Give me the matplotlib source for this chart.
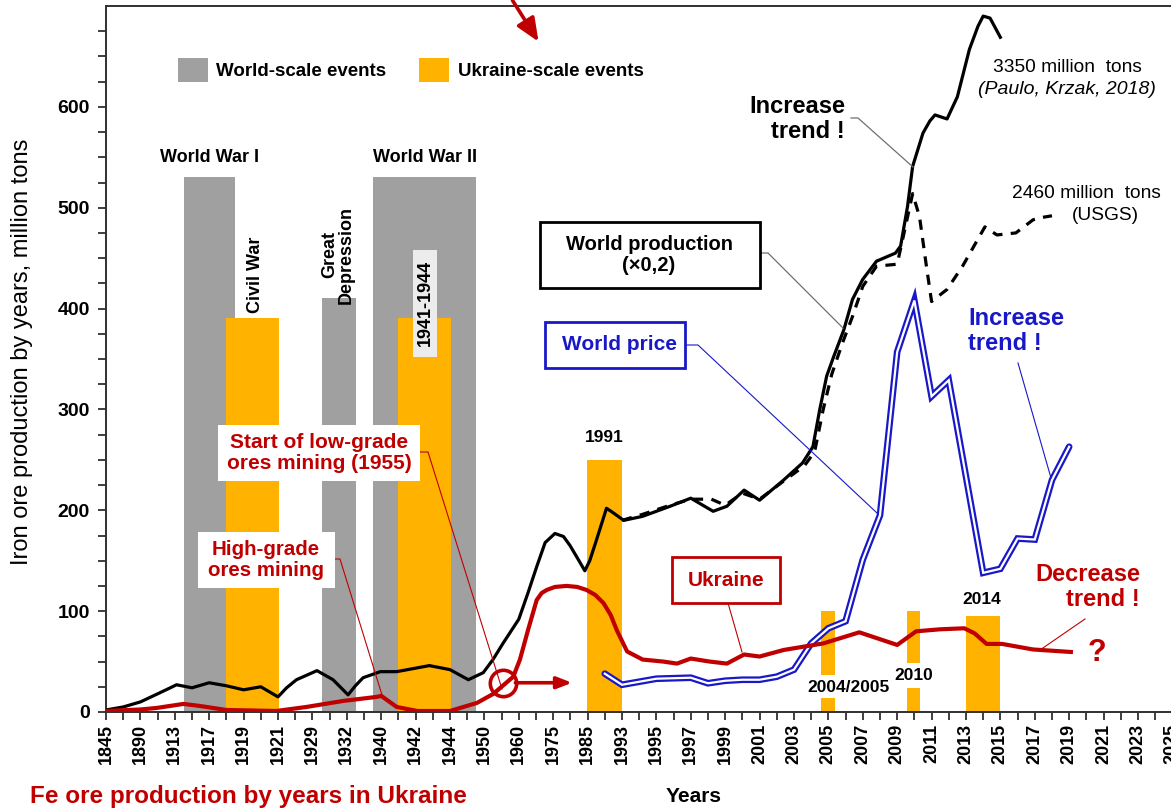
import numpy as np
import matplotlib
matplotlib.use('Agg')
import matplotlib.pyplot as plt
from matplotlib.patches import Patch, Rectangle, FancyArrowPatch
from matplotlib.lines import Line2D
from matplotlib.ticker import FixedLocator, FixedFormatter

plt.rcParams['font.family'] = ['Liberation Sans', 'DejaVu Sans']

# ---------------- data ----------------
tick_years = [1845, 1890, 1913, 1917, 1919, 1921, 1929, 1932, 1940, 1942, 1944,
              1950, 1960, 1975, 1985, 1993] + list(range(1995, 2026, 2))

# World production (x0.2), million tons (Paulo, Krzak 2018)
world_years = [1845, 1867.5, 1890, 1901.5, 1910, 1913.2, 1915, 1917, 1918, 1919, 1920, 1921,
               1923, 1925.3, 1929.4, 1930.8, 1932.3, 1934, 1935.8, 1939.8, 1940.9, 1942.8,
               1944, 1947.2, 1949.8, 1952.5, 1955.4, 1960, 1964, 1967.8, 1971.5, 1975.5,
               1978, 1979.9, 1982.5, 1984.2, 1985.5, 1987.1, 1989.4, 1990.8, 1993.1, 1994.2,
               1995.8, 1997, 1998.3, 1999.1, 2000.1, 2001, 2002.4, 2003.5, 2004.1, 2004.5,
               2004.9, 2005.3, 2005.9, 2006.4, 2007, 2007.8, 2008.9, 2009.2, 2009.6, 2009.9,
               2010.5, 2010.9, 2011.2, 2011.9, 2012.5, 2013.2, 2013.7, 2014, 2014.4, 2015]
world_vals = [2, 5, 10, 18, 24, 27, 24, 29, 26, 22, 25, 15,
              24, 32, 41, 32, 17, 26, 34, 40, 40, 46,
              42, 32, 39, 52, 68, 92, 118, 144, 168, 177,
              174, 165, 150, 140, 150, 171, 202, 198, 190, 194,
              204, 212, 199, 204, 220, 210, 230, 247, 263, 300,
              333, 352, 379, 409, 429, 447, 455, 462, 501, 541,
              574, 586, 592, 588, 610, 657, 680, 690, 688, 669]

# World production (USGS), dashed
usgs_years = [1993, 1994.2, 1995.8, 1997, 1998.2, 1999, 2000, 2001, 2002.4, 2003.6,
              2004.2, 2004.7, 2005.2, 2005.8, 2006.4, 2007, 2007.8, 2009, 2009.4,
              2009.9, 2010.3, 2010.7, 2011, 2011.9, 2012.8, 2014.1, 2014.8, 2015.9,
              2016.9, 2017.3, 2018]
usgs_vals = [190, 196, 205, 211, 211, 205, 217, 211, 229, 244,
             258, 300, 335, 365, 392, 422, 442, 444, 475,
             514, 491, 442, 407, 419, 442, 481, 473, 475,
             488, 490, 492]

# Ukraine production
ukr_years = [1845, 1890, 1900.8, 1914, 1915.9, 1918, 1920.9, 1927.6, 1931.7, 1939, 1940,
             1940.9, 1942.1, 1944, 1948.7, 1952.6, 1958.4, 1960.5, 1964, 1967.8, 1970,
             1972.2, 1975.5, 1978.9, 1982, 1984.7, 1986.8, 1988.7, 1990.4, 1991.8, 1993.3,
             1994.2, 1995.4, 1996.2, 1997, 1998.1, 1999.1, 2000.1, 2001, 2002.4, 2004.7,
             2006.8, 2009, 2010.1, 2011.5, 2012.9, 2013.5, 2014.2, 2015.1, 2016.9, 2019.1]
ukr_vals = [1, 2.5, 4, 8, 6, 2, 1, 5, 11, 15, 16,
            5, 1, 1, 9, 18, 35, 52, 81, 111, 118,
            121, 124, 125, 124, 121, 116, 108, 96, 81, 60,
            52, 50, 48, 53, 50, 48, 57, 55, 61.5, 68,
            79, 66.5, 80, 82, 83, 78, 67.5, 67.5, 62, 59.5]

# World price
price_years = [1989, 1993, 1995, 1997, 1998, 1999, 2000, 2001, 2002, 2003, 2004, 2005,
               2006, 2007, 2008, 2009, 2010, 2011, 2012, 2014, 2015, 2016, 2017, 2018, 2019]
price_vals = [38, 27, 33, 34, 28.5, 31, 32, 32, 35, 42, 68, 83,
              90, 151, 195, 357, 408, 313, 329, 138, 142, 172, 171, 230, 263]

# events: (start year, end year, height)
world_events_start = [1914.1, 1929.8, 1938.1]
world_events_end = [1918.5, 1934.2, 1948.6]
world_events_h = [530, 410, 530]
ukr_events_start = [1918.0, 1941.0, 1984.8, 2004.6, 2009.6, 2013.0]
ukr_events_end = [1921.2, 1944.2, 1993.0, 2005.4, 2010.3, 2015.0]
ukr_events_h = [391, 391, 250, 100, 100, 95]

# ---------------- style ----------------
GRAY = '#a0a0a0'
ORANGE = '#ffb300'
RED = '#c00000'
BLUE = '#1818c8'

W, H = 1171, 809
fig = plt.figure(figsize=(W / 100, H / 100), dpi=100)
AX_L, AX_R, AX_B, AX_T = 106, 1193, 712, 6
ax = fig.add_axes([AX_L / W, 1 - AX_B / H, (AX_R - AX_L) / W, (AX_B - AX_T) / H])

_ty = np.array([1800.0] + tick_years + [2027.0])
_ti = np.arange(-1, len(tick_years) + 1, dtype=float)


def fwd(v):
    return np.interp(v, _ty, _ti)


def inv(v):
    return np.interp(v, _ti, _ty)


ax.set_xscale('function', functions=(fwd, inv))
ax.set_xlim(1845, 2026.2)
ax.set_ylim(0, 700)

# bars
for s, e, h in zip(world_events_start, world_events_end, world_events_h):
    ax.bar(s, h, width=e - s, align='edge', color=GRAY, zorder=1)
for s, e, h in zip(ukr_events_start, ukr_events_end, ukr_events_h):
    ax.bar(s, h, width=e - s, align='edge', color=ORANGE, zorder=2)

# curves
ax.plot(price_years, price_vals, color=BLUE, lw=4.8, zorder=4, solid_joinstyle='miter',
        solid_capstyle='round')
ax.plot(price_years, price_vals, color='white', lw=1.6, zorder=4.1, solid_joinstyle='miter')
ax.plot(usgs_years, usgs_vals, color='black', lw=2.3, ls=(0, (3.2, 2.6)), zorder=5)
ax.plot(world_years, world_vals, color='black', lw=2.3, zorder=6, solid_joinstyle='round')
ax.plot(ukr_years, ukr_vals, color=RED, lw=3.0, zorder=7, solid_joinstyle='round')

# circle + arrow marking 1955
ax.plot([1955.4], [29], marker='o', ms=19, mfc='none', mec=RED, mew=2.6, zorder=8)
ax.annotate('', xy=(1980.5, 29), xytext=(1959.0, 29),
            arrowprops=dict(arrowstyle='-|>,head_length=0.9,head_width=0.35', color=RED,
                            lw=2.6, shrinkA=0, shrinkB=0), zorder=8)

# axes styling
ax.spines['right'].set_visible(False)
for sp in ['left', 'bottom', 'top']:
    ax.spines[sp].set_linewidth(1.4)
    ax.spines[sp].set_color('#303030')
ax.xaxis.set_major_locator(FixedLocator(tick_years))
ax.xaxis.set_major_formatter(FixedFormatter([str(y) for y in tick_years]))
minor_x = [(a + b) / 2 for a, b in zip(tick_years[:-1], tick_years[1:])] + [2026]
ax.xaxis.set_minor_locator(FixedLocator(minor_x))
ax.set_yticks(range(0, 700, 100))
ax.set_yticks(range(0, 700, 25), minor=True)
ax.tick_params(axis='x', which='both', direction='out', length=5.5, width=1.3, colors='#303030',
               pad=3, labelcolor='black')
ax.tick_params(axis='x', which='major', labelrotation=90, labelsize=13)
ax.tick_params(axis='y', which='both', direction='out', length=5.5, width=1.3, colors='#303030',
               pad=6, labelcolor='black', labelsize=14)
ax.tick_params(top=False, right=False, which='both')
for lab in ax.get_xticklabels() + ax.get_yticklabels():
    lab.set_fontweight('bold')

ax.set_ylabel('Iron ore production by years, million tons', fontsize=17)
ax.yaxis.label.set_va('center')
ax.yaxis.set_label_coords((22 - AX_L) / (AX_R - AX_L), (AX_B - 352) / (AX_B - AX_T))
ax.set_xlabel('Years', fontsize=15, fontweight='bold')
ax.xaxis.label.set_va('center')
ax.xaxis.set_label_coords((694 - AX_L) / (AX_R - AX_L), (AX_B - 797) / (AX_B - AX_T))

# legend
handles = [Patch(facecolor=GRAY, edgecolor='none', label='World-scale events'),
           Patch(facecolor=ORANGE, edgecolor='none', label='Ukraine-scale events')]
ax.legend(handles=handles, loc='center left', bbox_to_anchor=(178 / W, 1 - 70 / H),
          bbox_transform=fig.transFigure, frameon=False, ncol=2, borderpad=0,
          borderaxespad=0, handlelength=1.6, handleheight=1.55, handletextpad=0.45,
          columnspacing=1.75, prop={'weight': 'bold', 'size': 13.5})


# ---------------- annotations (figure pixel helpers) ----------------
def P(px, py):
    return px / W, 1 - py / H


def ftext(px, py, s, **kw):
    kw.setdefault('ha', 'center')
    kw.setdefault('va', 'center')
    kw.setdefault('zorder', 7)
    fig.text(px / W, 1 - py / H, s, **kw)


def fbox(x0, y0, x1, y1, ec='none', fc='white', lw=2.0):
    fig.add_artist(Rectangle((x0 / W, 1 - y1 / H), (x1 - x0) / W, (y1 - y0) / H,
                             transform=fig.transFigure, fc=fc, ec=ec, lw=lw, zorder=5))


def fline(pts, color, lw=0.8):
    xs = [p[0] / W for p in pts]
    ys = [1 - p[1] / H for p in pts]
    fig.add_artist(Line2D(xs, ys, transform=fig.transFigure, color=color, lw=lw, zorder=4))


# event labels
ftext(210, 157, 'World War I', fontsize=13, fontweight='bold')
ftext(425, 157, 'World War II', fontsize=13, fontweight='bold')
ftext(255, 275, 'Civil War', fontsize=13, fontweight='bold', rotation=90)
ftext(338, 255, 'Great\nDepression', fontsize=13, fontweight='bold', rotation=90,
      linespacing=1.0)
fbox(413, 250, 437, 357, fc='#ececec')
ftext(425, 303, '1941-1944', fontsize=13, fontweight='bold', rotation=90)
ftext(604, 437, '1991', fontsize=12.5, fontweight='bold')
fbox(801, 675, 896, 698)
ftext(848, 687, '2004/2005', fontsize=12.5, fontweight='bold')
fbox(893, 663, 937, 688)
ftext(914, 676, '2010', fontsize=12.5, fontweight='bold')
ftext(982, 600, '2014', fontsize=12.5, fontweight='bold')

# World production box
fline([(760, 253), (768, 253), (843, 328)], '#707070', 0.9)
fbox(540, 222, 760, 288, ec='black', lw=2.0)
ftext(649, 255, 'World production\n(×0,2)', fontsize=14.5, fontweight='bold', linespacing=1.15)

# black increase trend
fline([(851, 118), (858, 118), (913, 167)], '#707070', 0.9)
ftext(845, 119, 'Increase\ntrend !', fontsize=17, fontweight='bold', ha='right',
      multialignment='right', linespacing=1.1)
ftext(1067, 67, '3350 million  tons', fontsize=13.8)
ftext(1067, 89, '(Paulo, Krzak, 2018)', fontsize=14, style='italic')
ftext(1086, 193, '2460 million  tons', fontsize=13.8)
ftext(1105, 215, '(USGS)', fontsize=13.8)

# World price
fline([(685, 345), (698, 345), (877, 513)], BLUE, 0.8)
fbox(545, 322, 685, 368, ec=BLUE, lw=2.0)
ftext(620, 345, 'World price', fontsize=15, fontweight='bold', color=BLUE)
fline([(1018, 363), (1051, 478)], BLUE, 0.8)
ftext(968, 331, 'Increase\ntrend !', fontsize=17, fontweight='bold', ha='left',
      multialignment='left', color=BLUE, linespacing=1.1)

# Ukraine
fline([(728, 603), (742, 652)], RED, 0.8)
fbox(672, 557, 780, 603, ec=RED, lw=2.0)
ftext(726, 580, 'Ukraine', fontsize=15, fontweight='bold', color=RED)
fline([(1085, 619), (1040, 650)], RED, 0.8)
ftext(1140, 587, 'Decrease\ntrend !', fontsize=17, fontweight='bold', ha='right',
      multialignment='right', color=RED, linespacing=1.1)
ftext(1097, 653, '?', fontsize=22, fontweight='bold', color=RED)

# low/high grade mining
fline([(418, 452), (428, 452), (502, 689)], RED, 0.8)
fbox(218, 425, 420, 481)
ftext(319, 453, 'Start of low-grade\nores mining (1955)', fontsize=15, fontweight='bold',
      color=RED, linespacing=1.1)
fline([(335, 559), (340, 559), (382, 695)], RED, 0.8)
fbox(198, 532, 335, 588)
ftext(266, 560, 'High-grade\nores mining', fontsize=14.8, fontweight='bold', color=RED,
      linespacing=1.1)

# bottom caption
ftext(30, 797, 'Fe ore production by years in Ukraine', fontsize=17.5, fontweight='bold',
      color=RED, ha='left')

# top red arrow
fig.add_artist(FancyArrowPatch(P(511, -2), P(540, 44), transform=fig.transFigure,
                               arrowstyle='-|>,head_length=0.7,head_width=0.3',
                               mutation_scale=20, color=RED, lw=2.6, zorder=8))

fig.savefig('out.png', dpi=100)
